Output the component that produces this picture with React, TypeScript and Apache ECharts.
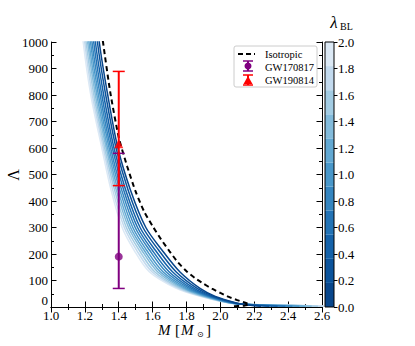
import React, { useEffect, useRef } from "react";
import * as echarts from "echarts";

// ---------- data ----------
const LAMBDA_BL = [0.0, 0.2, 0.4, 0.6, 0.8, 1.0, 1.2, 1.4, 1.6, 1.8, 2.0];
const CURVE_COLORS = ["#08468b", "#0b539b", "#1562a9", "#2373b5", "#3585bf", "#4997c9", "#62a8d2", "#83bbdb", "#a3cce3", "#c3daee", "#dce9f5"];
// tidal deformability levels shared by the anisotropic curves
const TIDAL_LEVELS = [1150, 1000, 800, 600, 440, 300, 215, 133, 70, 40, 14, 8, 5, 3];
// masses of each anisotropic curve at those levels (one array per lambda_BL)
const M_BL_00 = [1.265, 1.285, 1.335, 1.395, 1.470, 1.560, 1.655, 1.760, 1.880, 1.970, 2.100, 2.150, 2.200, 2.240];
const M_BL_02 = [1.254, 1.274, 1.323, 1.384, 1.456, 1.543, 1.635, 1.738, 1.863, 1.959, 2.095, 2.168, 2.242, 2.289];
const M_BL_04 = [1.242, 1.262, 1.311, 1.372, 1.442, 1.526, 1.615, 1.717, 1.846, 1.948, 2.090, 2.186, 2.284, 2.338];
const M_BL_06 = [1.232, 1.252, 1.300, 1.362, 1.430, 1.511, 1.597, 1.697, 1.831, 1.939, 2.086, 2.203, 2.323, 2.384];
const M_BL_08 = [1.222, 1.242, 1.290, 1.352, 1.418, 1.497, 1.581, 1.679, 1.817, 1.930, 2.082, 2.218, 2.358, 2.425];
const M_BL_10 = [1.213, 1.233, 1.280, 1.343, 1.407, 1.483, 1.564, 1.661, 1.803, 1.921, 2.078, 2.233, 2.393, 2.466];
const M_BL_12 = [1.204, 1.224, 1.271, 1.334, 1.396, 1.470, 1.549, 1.645, 1.790, 1.912, 2.074, 2.246, 2.424, 2.502];
const M_BL_14 = [1.196, 1.216, 1.262, 1.326, 1.386, 1.458, 1.535, 1.629, 1.778, 1.904, 2.071, 2.260, 2.456, 2.539];
const M_BL_16 = [1.187, 1.207, 1.253, 1.317, 1.376, 1.445, 1.520, 1.612, 1.765, 1.896, 2.067, 2.273, 2.487, 2.576];
const M_BL_18 = [1.179, 1.199, 1.244, 1.309, 1.365, 1.433, 1.505, 1.596, 1.753, 1.888, 2.064, 2.287, 2.519, 2.613];
const M_BL_20 = [1.170, 1.190, 1.235, 1.300, 1.355, 1.420, 1.490, 1.580, 1.740, 1.880, 2.060, 2.300, 2.550, 2.650];
const CURVES_M = [M_BL_00, M_BL_02, M_BL_04, M_BL_06, M_BL_08, M_BL_10, M_BL_12, M_BL_14, M_BL_16, M_BL_18, M_BL_20];

// isotropic curve
const ISO_M = [1.288, 1.307, 1.35, 1.40, 1.45, 1.50, 1.55, 1.60, 1.65, 1.70, 1.75, 1.80, 1.85, 1.90, 1.95, 2.00, 2.05, 2.10, 2.155, 2.17, 2.14, 2.08];
const ISO_L = [1100, 1000, 810, 640, 530, 435, 360, 305, 255, 210, 168, 135, 109, 88, 69, 53, 38, 26, 14, 9, 5, 3];

// observations: [M, central, low, high]
const GW170817 = [1.4, 190, 70, 580];
const GW190814 = [1.4, 616, 458, 889];

const X_TICKS = { min: 1.0, max: 2.6, interval: 0.2 };
const Y_TICKS = { min: 0, max: 1000, interval: 100 };
const CB_TICKS = { min: 0, max: 2.0, interval: 0.2 };
const CB_BINS = CURVE_COLORS.length;

const FONT = "Liberation Serif";

export default function App() {
  const ref = useRef<HTMLDivElement>(null);
  useEffect(() => {
    document.body.style.margin = "0";
    const chart = echarts.init(ref.current!, null, { renderer: "svg" });
    const gx = 51, gy = 42, gw = 271, gh = 265;
    const cbx = 325, cbw = 9;

    const tickCommon = {
      axisLine: { show: true, lineStyle: { color: "#000", width: 1 } },
      axisTick: { show: true, inside: true, length: 5.5, lineStyle: { color: "#000", width: 1 } },
      minorTick: { show: true, splitNumber: 2, length: 3, lineStyle: { color: "#000", width: 1 } },
      splitLine: { show: false },
      minorSplitLine: { show: false },
    };
    const labelStyle = { color: "#000", fontFamily: FONT, fontSize: 13 };

    const curveSeries = CURVES_M.map((ms, i) => ({
      type: "line",
      name: "lambda " + LAMBDA_BL[i].toFixed(1),
      xAxisIndex: 0,
      yAxisIndex: 0,
      data: ms.map((m, k) => [m, TIDAL_LEVELS[k]]),
      showSymbol: false,
      symbol: "none",
      smooth: 0.3,
      lineStyle: { color: CURVE_COLORS[i], width: 1.5 },
      z: 2 + (CURVES_M.length - i) * 0.01,
    })).reverse();

    const errRender = (color: string) => (params: any, api: any) => {
      const x = api.value(0);
      const lo = api.coord([x, api.value(2)]);
      const hi = api.coord([x, api.value(3)]);
      const hw = 6;
      return {
        type: "group",
        children: [
          { type: "line", shape: { x1: lo[0], y1: lo[1], x2: hi[0], y2: hi[1] }, style: { stroke: color, lineWidth: 2 } },
          { type: "line", shape: { x1: lo[0] - hw, y1: lo[1], x2: lo[0] + hw, y2: lo[1] }, style: { stroke: color, lineWidth: 1.5 } },
          { type: "line", shape: { x1: hi[0] - hw, y1: hi[1], x2: hi[0] + hw, y2: hi[1] }, style: { stroke: color, lineWidth: 1.5 } },
        ],
      };
    };

    const cbSeries = CURVE_COLORS.map((c) => ({
      type: "bar",
      xAxisIndex: 2,
      yAxisIndex: 2,
      stack: "cb",
      barWidth: "100%",
      data: [CB_TICKS.max / CB_BINS],
      itemStyle: { color: c },
      z: 1,
    }));

    const legendX = 234, legendY = 46;
    const txt = (x: number, y: number, text: string) => ({
      type: "text", x, y, z: 101,
      style: { text, fill: "#000", fontFamily: FONT, fontSize: 10.5, verticalAlign: "middle", align: "left" },
    });
    const t = (x: number, y: number, text: string, size: number, italic: boolean, align = "left", fam = FONT) => ({
      type: "text", x, y, z: 100,
      style: { text, fill: "#000", fontFamily: fam, fontSize: size, fontStyle: italic ? "italic" : "normal", align, verticalAlign: "middle" },
    });

    chart.setOption({
      animation: false,
      textStyle: { fontFamily: FONT },
      grid: [
        { left: gx, top: gy, width: gw, height: gh },
        { left: cbx, top: gy, width: cbw, height: gh },
      ],
      xAxis: [
        { gridIndex: 0, type: "value", position: "bottom", ...X_TICKS, ...tickCommon,
          axisLabel: { ...labelStyle, margin: 2, formatter: (v: number) => v.toFixed(1) } },
        { gridIndex: 0, type: "value", position: "top", ...X_TICKS, ...tickCommon, axisLabel: { show: false } },
        { gridIndex: 1, type: "category", data: ["cb"], show: false },
      ],
      yAxis: [
        { gridIndex: 0, type: "value", position: "left", ...Y_TICKS, ...tickCommon,
          axisLabel: { ...labelStyle, margin: 3, verticalAlignMinLabel: "bottom", formatter: (v: number) => String(v) } },
        { gridIndex: 0, type: "value", position: "right", ...Y_TICKS, ...tickCommon, axisLabel: { show: false } },
        { gridIndex: 1, type: "value", position: "right", ...CB_TICKS,
          axisLine: { show: false },
          axisTick: { show: true, inside: false, length: 3.5, lineStyle: { color: "#000" } },
          splitLine: { show: false },
          axisLabel: { ...labelStyle, margin: 4, formatter: (v: number) => v.toFixed(1) } },
      ],
      series: [
        ...curveSeries,
        {
          type: "line", name: "Isotropic", xAxisIndex: 0, yAxisIndex: 0,
          data: ISO_M.map((m, k) => [m, ISO_L[k]]),
          symbol: "none", smooth: 0.2,
          lineStyle: { color: "#000", width: 2, type: [5, 3.5] }, z: 5,
        },
        {
          type: "custom", xAxisIndex: 0, yAxisIndex: 0, z: 6,
          renderItem: errRender("#800080"), data: [GW170817],
        },
        {
          type: "scatter", xAxisIndex: 0, yAxisIndex: 0, z: 7, symbol: "circle", symbolSize: 8,
          itemStyle: { color: "#800080" }, data: [[GW170817[0], GW170817[1]]],
        },
        {
          type: "custom", xAxisIndex: 0, yAxisIndex: 0, z: 8,
          renderItem: errRender("#ff0000"), data: [GW190814],
        },
        {
          type: "scatter", xAxisIndex: 0, yAxisIndex: 0, z: 9, symbol: "triangle", symbolSize: 9,
          itemStyle: { color: "#ff0000" }, data: [[GW190814[0], GW190814[1]]],
        },
        ...cbSeries,
      ],
      graphic: [
        // colorbar frame
        { type: "rect", z: 100, shape: { x: cbx, y: gy, width: cbw, height: gh }, style: { fill: "none", stroke: "#000", lineWidth: 1 } },
        // colorbar title
        t(334, 22, "λ", 17, true, "center"),
        t(340, 26, "BL", 10, false),
        // x axis name
        t(158, 330, "M", 15, true),
        t(175, 330, "[", 15, false),
        t(181, 330, "M", 15, true),
        t(197, 334, "⊙", 8, false, "left", "DejaVu Sans"),
        t(206, 330, "]", 15, false),
        // y axis name
        { type: "text", x: 13, y: 175, rotation: Math.PI / 2, z: 100, style: {
            text: "Λ", fill: "#000", fontFamily: FONT, fontSize: 16, align: "center", verticalAlign: "middle" } },
        // legend
        { type: "rect", z: 100, shape: { x: legendX, y: legendY, width: 83, height: 41, r: 2 }, style: { fill: "#fff", stroke: "#cccccc", lineWidth: 1 } },
        { type: "line", z: 101, shape: { x1: 238, y1: 54, x2: 255, y2: 54 }, style: { stroke: "#000", lineWidth: 2, lineDash: [5, 3] } },
        txt(265, 54, "Isotropic"),
        { type: "line", z: 101, shape: { x1: 248, y1: 61, x2: 248, y2: 71 }, style: { stroke: "#800080", lineWidth: 2 } },
        { type: "line", z: 101, shape: { x1: 243, y1: 61, x2: 253, y2: 61 }, style: { stroke: "#800080", lineWidth: 1.5 } },
        { type: "line", z: 101, shape: { x1: 243, y1: 71, x2: 253, y2: 71 }, style: { stroke: "#800080", lineWidth: 1.5 } },
        { type: "circle", z: 102, shape: { cx: 248, cy: 66, r: 3.5 }, style: { fill: "#800080" } },
        txt(265, 67, "GW170817"),
        { type: "line", z: 101, shape: { x1: 248, y1: 75, x2: 248, y2: 85 }, style: { stroke: "#ff0000", lineWidth: 2 } },
        { type: "line", z: 101, shape: { x1: 243, y1: 75, x2: 253, y2: 75 }, style: { stroke: "#ff0000", lineWidth: 1.5 } },
        { type: "line", z: 101, shape: { x1: 243, y1: 85, x2: 253, y2: 85 }, style: { stroke: "#ff0000", lineWidth: 1.5 } },
        { type: "polygon", z: 102, shape: { points: [[248, 76], [252.5, 84], [243.5, 84]] }, style: { fill: "#ff0000" } },
        txt(265, 80, "GW190814"),
      ],
    });
    return () => chart.dispose();
  }, []);
  return <div ref={ref} style={{ width: 415, height: 346 }} />;
}
